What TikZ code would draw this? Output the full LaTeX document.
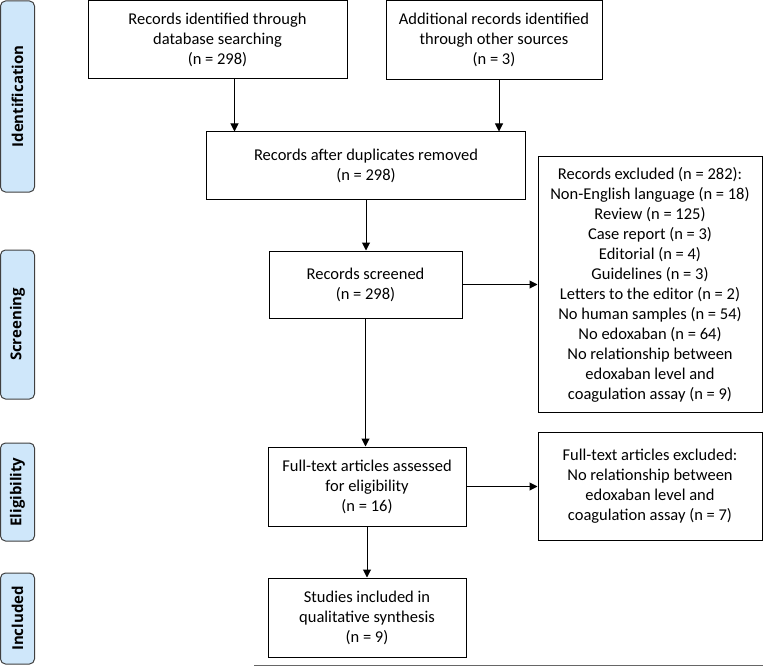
\documentclass[tikz,border=0pt]{standalone}
\usepackage{fontspec}
\setmainfont{Carlito}
\newfontfamily\phasefont{Open Sans}
\usetikzlibrary{arrows.meta}
\definecolor{phaseblue}{RGB}{207,231,250}
\tikzset{
  box/.style={draw=black, line width=1pt, align=center, inner sep=2pt,
    font=\fontsize{16.5}{20}\selectfont},
  phase/.style={draw=black!75, line width=1pt, fill=phaseblue, rounded corners=5pt,
    rotate=90, minimum height=34, inner sep=0pt, font=\fontsize{15}{18}\phasefont\bfseries},
  arr/.style={draw=black, line width=1pt, -{Triangle[length=8pt,width=8pt]}},
}
\begin{document}
\begin{tikzpicture}[x=1pt, y=-1pt]
		\useasboundingbox (0,0) rectangle (763,666);
		% phases
		\node[phase, minimum width=191] (pid) at (17.5,96.5) {Identification};
		\node[phase, minimum width=149] (pscr) at (17.5,324.5) {Screening};
		\node[phase, minimum width=98] (pel) at (17.5,492) {Eligibility};
		\node[phase, minimum width=91] (pinc) at (17.5,618.5) {Included};
		% boxes
		\node[box, minimum width=259, minimum height=78] (db) at (217.5,39.5) {Records identified through\\database searching\\(n = 298)};
		\node[box, minimum width=216, minimum height=79] (other) at (494,40) {Additional records identified\\through other sources\\(n = 3)};
		\node[box, minimum width=319, minimum height=67] (dup) at (366,165.5) {Records after duplicates removed\\(n = 298)};
		\node[box, minimum width=193, minimum height=67] (scr) at (365.5,284.5) {Records screened\\(n = 298)};
		\node[box, minimum width=224, minimum height=255] (excl) at (650,284.5) {Records excluded (n = 282):\\Non-English language (n = 18)\\Review (n = 125)\\Case report (n = 3)\\Editorial (n = 4)\\Guidelines (n = 3)\\Letters to the editor (n = 2)\\No human samples (n = 54)\\No edoxaban (n = 64)\\No relationship between\\edoxaban level and\\coagulation assay (n = 9)};
		\node[box, minimum width=198, minimum height=79] (full) at (367,486.5) {Full-text articles assessed\\for eligibility\\(n = 16)};
		\node[box, minimum width=224, minimum height=108] (fexcl) at (650,486) {Full-text articles excluded:\\No relationship between\\edoxaban level and\\coagulation assay (n = 7)};
		\node[box, minimum width=198, minimum height=79] (inc) at (367,617.5) {Studies included in\\qualitative synthesis\\(n = 9)};
		% arrows
		\draw[arr] ([xshift=17]db.south) -- ([xshift=17]db.south |- dup.north);
		\draw[arr] ([xshift=5]other.south) -- ([xshift=5]other.south |- dup.north);
		\draw[arr] (dup.south) -- (dup.south |- scr.north);
		\draw[arr] (scr.east) -- (scr.east -| excl.west);
		\draw[arr] (scr.south) -- (scr.south |- full.north);
		\draw[arr] (full.east) -- (full.east -| fexcl.west);
		\draw[arr] (full.south) -- (inc.north);
		\coordinate (lineL) at (254,665);
		\coordinate (lineR) at (763,665);
		\draw[black!60, line width=0.8pt] (lineL) -- (lineR);
	\end{tikzpicture}
\end{document}
